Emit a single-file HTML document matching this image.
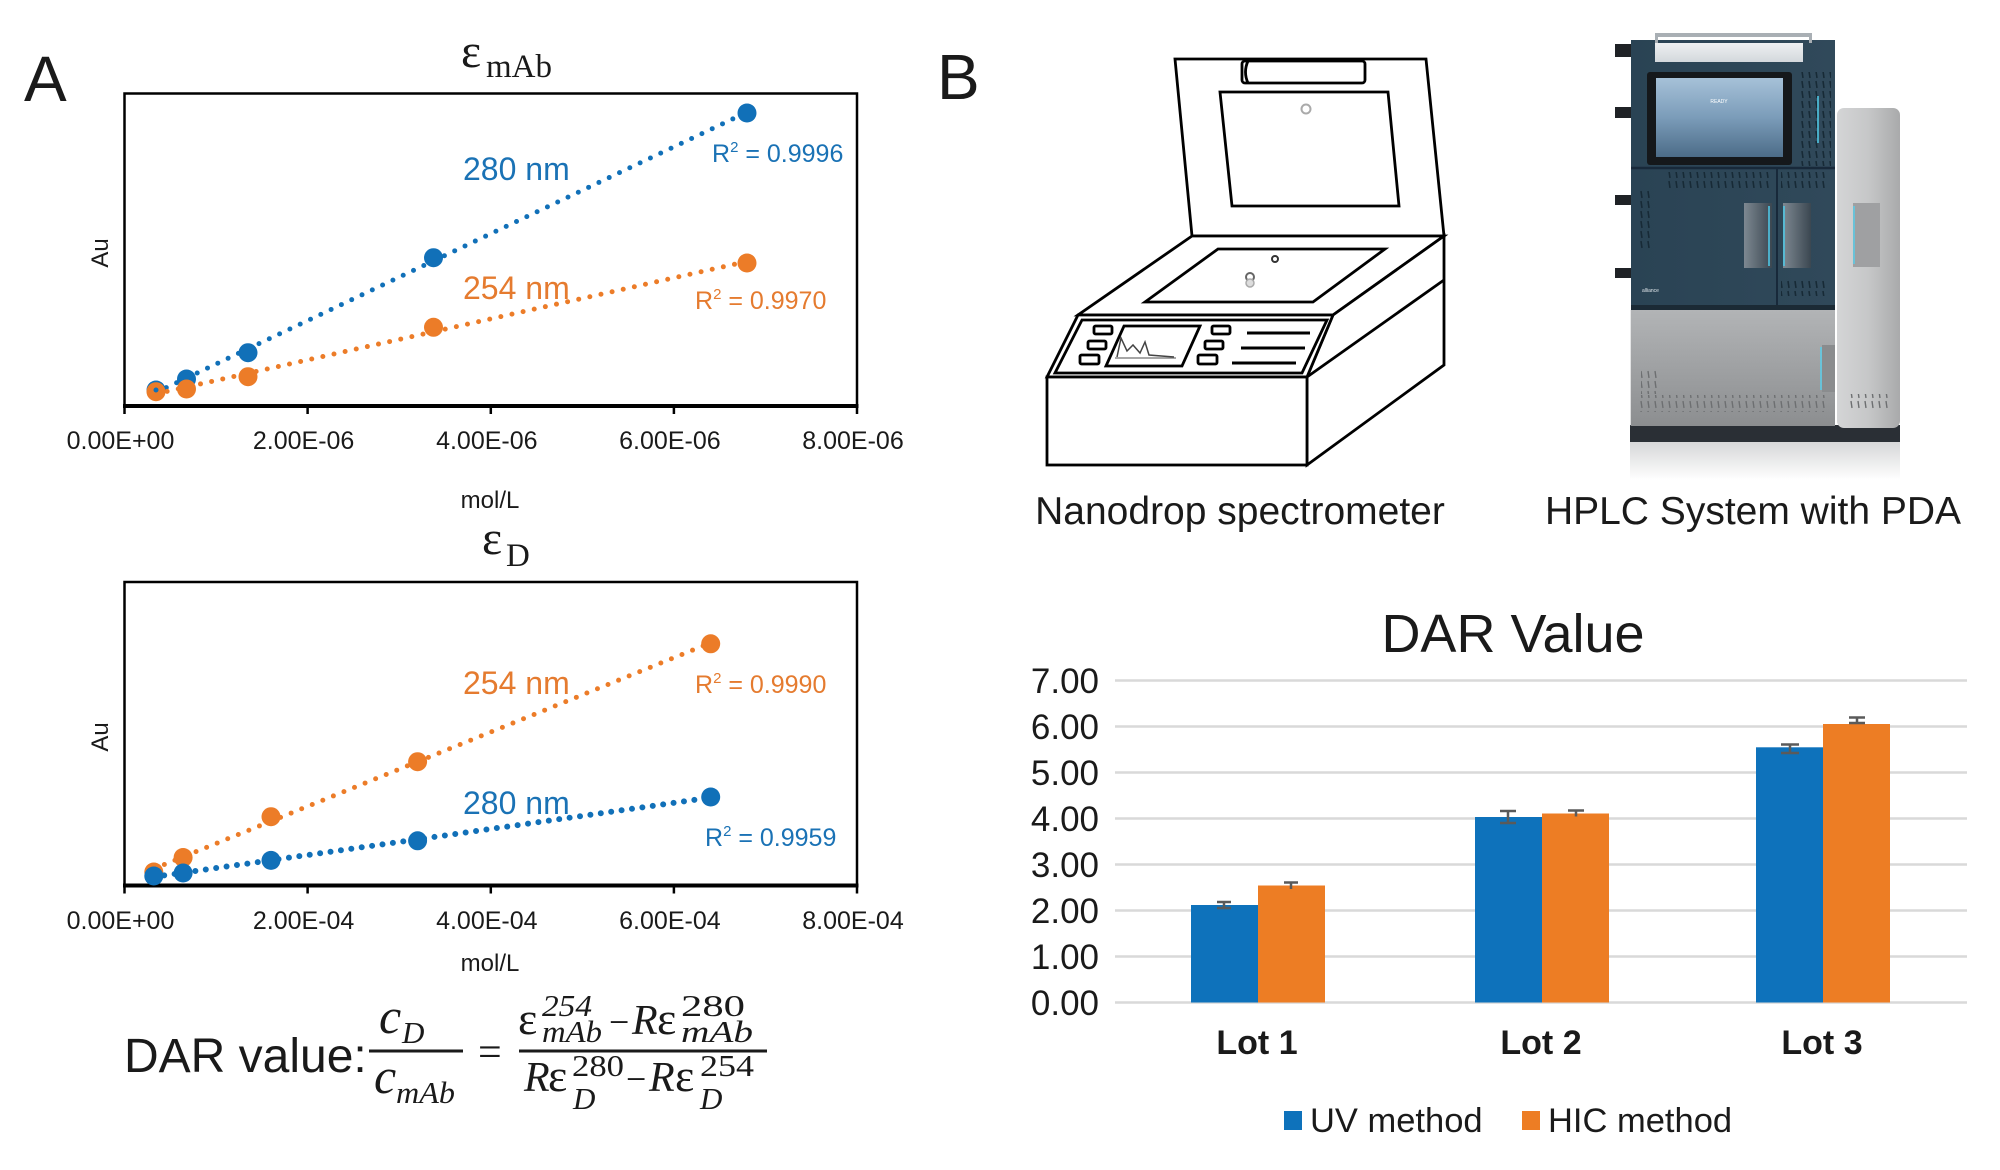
<!DOCTYPE html>
<html><head><meta charset="utf-8"><style>
html,body{margin:0;padding:0;background:#fff;}
svg{display:block;}
</style></head><body>
<svg width="2000" height="1170" viewBox="0 0 2000 1170" xmlns="http://www.w3.org/2000/svg">
<defs>
<linearGradient id="refl" x1="0" y1="0" x2="0" y2="1"><stop offset="0" stop-color="#d6d7d8"/><stop offset="1" stop-color="#ffffff"/></linearGradient>
<linearGradient id="colg" x1="0" y1="0" x2="1" y2="0"><stop offset="0" stop-color="#d4d5d6"/><stop offset="0.5" stop-color="#c6c7c8"/><stop offset="1" stop-color="#a9aaab"/></linearGradient>
<linearGradient id="grayg" x1="0" y1="0" x2="0" y2="1"><stop offset="0" stop-color="#b2b4b6"/><stop offset="1" stop-color="#8c8e90"/></linearGradient>
<linearGradient id="scr" x1="0" y1="0" x2="0" y2="1"><stop offset="0" stop-color="#a6c1d8"/><stop offset="0.5" stop-color="#7b9cb9"/><stop offset="1" stop-color="#4c6c88"/></linearGradient>
<linearGradient id="slotg" x1="0" y1="0" x2="1" y2="0"><stop offset="0" stop-color="#7d8891"/><stop offset="1" stop-color="#3b4751"/></linearGradient>
<linearGradient id="navy" x1="0" y1="0" x2="1" y2="0"><stop offset="0" stop-color="#2a4354"/><stop offset="1" stop-color="#30495a"/></linearGradient>
<linearGradient id="strip" x1="0" y1="0" x2="0" y2="1"><stop offset="0" stop-color="#eef0f2"/><stop offset="1" stop-color="#d3d8dc"/></linearGradient>
<pattern id="vent" width="7" height="10" patternUnits="userSpaceOnUse"><line x1="3" y1="1" x2="4" y2="8" stroke="#172a36" stroke-width="1.6"/></pattern>
<pattern id="vent2" width="7" height="10" patternUnits="userSpaceOnUse"><line x1="3" y1="1" x2="4" y2="8" stroke="#6d6f71" stroke-width="1.4"/></pattern>
</defs>

<!-- ================= PANEL A ================= -->
<text x="24" y="101" font-family="Liberation Sans, sans-serif" font-size="64" fill="#1a1a1a">A</text>

<!-- Top chart title -->
<text x="461" y="67" font-family="Liberation Serif, serif" font-size="48" fill="#1a1a1a">ε</text>
<text x="486" y="77" font-family="Liberation Serif, serif" font-size="33" fill="#1a1a1a">mAb</text>

<!-- Top chart frame -->
<rect x="124.5" y="93.5" width="732.5" height="312.5" fill="none" stroke="#000" stroke-width="2.5"/>
<line x1="123" y1="406" x2="858.5" y2="406" stroke="#000" stroke-width="4"/>
<g stroke="#000" stroke-width="2.5">
<line x1="124.5" y1="406" x2="124.5" y2="414"/>
<line x1="307.6" y1="406" x2="307.6" y2="414"/>
<line x1="490.8" y1="406" x2="490.8" y2="414"/>
<line x1="673.9" y1="406" x2="673.9" y2="414"/>
<line x1="857" y1="406" x2="857" y2="414"/>
</g>
<g font-family="Liberation Sans, sans-serif" font-size="25" fill="#1a1a1a" text-anchor="middle">
<text x="120.5" y="449">0.00E+00</text>
<text x="303.6" y="449">2.00E-06</text>
<text x="486.8" y="449">4.00E-06</text>
<text x="669.9" y="449">6.00E-06</text>
<text x="853" y="449">8.00E-06</text>
<text x="490" y="508" font-size="24">mol/L</text>
<text transform="translate(108,253) rotate(-90)" font-size="24">Au</text>
</g>

<!-- top chart series -->
<line x1="156" y1="392.5" x2="747" y2="112.2" stroke="#1170b8" stroke-width="5" stroke-linecap="round" stroke-dasharray="0 11.4"/>
<g fill="#1170b8">
<circle cx="156" cy="390" r="9.5"/><circle cx="186.5" cy="379" r="9.5"/><circle cx="248" cy="352.7" r="9.5"/><circle cx="433.5" cy="257.7" r="9.5"/><circle cx="747" cy="113" r="9.5"/>
</g>
<line x1="156" y1="393.9" x2="747" y2="261.5" stroke="#ec7c28" stroke-width="5" stroke-linecap="round" stroke-dasharray="0 11.4"/>
<g fill="#ec7c28">
<circle cx="156" cy="391.7" r="9.5"/><circle cx="186.5" cy="389" r="9.5"/><circle cx="248" cy="376.7" r="9.5"/><circle cx="433.5" cy="327.3" r="9.5"/><circle cx="747" cy="263" r="9.5"/>
</g>
<circle cx="156" cy="390" r="2.5" fill="#1170b8"/>
<g font-family="Liberation Sans, sans-serif">
<text x="463" y="180" font-size="32" fill="#1a72b5">280 nm</text>
<text x="712" y="162" font-size="25" fill="#1a72b5">R<tspan font-size="15" dy="-10">2</tspan><tspan dy="10"> = 0.9996</tspan></text>
<text x="463" y="299" font-size="32" fill="#e57b2f">254 nm</text>
<text x="695" y="309" font-size="25" fill="#e57b2f">R<tspan font-size="15" dy="-10">2</tspan><tspan dy="10"> = 0.9970</tspan></text>
</g>

<!-- Bottom chart title -->
<text x="482" y="554" font-family="Liberation Serif, serif" font-size="48" fill="#1a1a1a">ε</text>
<text x="506" y="566" font-family="Liberation Serif, serif" font-size="33" fill="#1a1a1a">D</text>

<!-- Bottom chart frame -->
<rect x="124.5" y="582" width="732.5" height="303.5" fill="none" stroke="#000" stroke-width="2.5"/>
<line x1="123" y1="885.5" x2="858.5" y2="885.5" stroke="#000" stroke-width="4"/>
<g stroke="#000" stroke-width="2.5">
<line x1="124.5" y1="885.5" x2="124.5" y2="893.5"/>
<line x1="307.6" y1="885.5" x2="307.6" y2="893.5"/>
<line x1="490.8" y1="885.5" x2="490.8" y2="893.5"/>
<line x1="673.9" y1="885.5" x2="673.9" y2="893.5"/>
<line x1="857" y1="885.5" x2="857" y2="893.5"/>
</g>
<g font-family="Liberation Sans, sans-serif" font-size="25" fill="#1a1a1a" text-anchor="middle">
<text x="120.5" y="929">0.00E+00</text>
<text x="303.6" y="929">2.00E-04</text>
<text x="486.8" y="929">4.00E-04</text>
<text x="669.9" y="929">6.00E-04</text>
<text x="853" y="929">8.00E-04</text>
<text x="490" y="971" font-size="24">mol/L</text>
<text transform="translate(108,737) rotate(-90)" font-size="24">Au</text>
</g>

<line x1="153.8" y1="868.8" x2="710.7" y2="642.8" stroke="#ec7c28" stroke-width="5" stroke-linecap="round" stroke-dasharray="0 11.4"/>
<g fill="#ec7c28">
<circle cx="153.8" cy="872" r="9.5"/><circle cx="183.1" cy="857.5" r="9.5"/><circle cx="271" cy="816.7" r="9.5"/><circle cx="417.6" cy="761.7" r="9.5"/><circle cx="710.7" cy="643.8" r="9.5"/>
</g>
<line x1="153.8" y1="876.9" x2="710.7" y2="797.6" stroke="#1170b8" stroke-width="6" stroke-linecap="round" stroke-dasharray="0 10.5"/>
<g fill="#1170b8">
<circle cx="153.8" cy="876" r="9.5"/><circle cx="183.1" cy="873" r="9.5"/><circle cx="271" cy="860.4" r="9.5"/><circle cx="417.6" cy="840.8" r="9.5"/><circle cx="710.7" cy="797" r="9.5"/>
</g>
<g font-family="Liberation Sans, sans-serif">
<text x="463" y="694" font-size="32" fill="#e57b2f">254 nm</text>
<text x="695" y="693" font-size="25" fill="#e57b2f">R<tspan font-size="15" dy="-10">2</tspan><tspan dy="10"> = 0.9990</tspan></text>
<text x="463" y="814" font-size="32" fill="#1a72b5">280 nm</text>
<text x="705" y="846" font-size="25" fill="#1a72b5">R<tspan font-size="15" dy="-10">2</tspan><tspan dy="10"> = 0.9959</tspan></text>
</g>

<!-- Formula -->
<text x="124" y="1072" font-family="Liberation Sans, sans-serif" font-size="48" fill="#1a1a1a">DAR value:</text>
<line x1="369" y1="1051" x2="463" y2="1051" stroke="#1a1a1a" stroke-width="3"/>
<g font-family="Liberation Serif, serif" font-style="italic" fill="#1a1a1a">
<text x="379" y="1033" font-size="50">c</text>
<text x="402" y="1043" font-size="31">D</text>
<text x="374" y="1093" font-size="50">c</text>
<text x="396" y="1103" font-size="31" textLength="59" lengthAdjust="spacingAndGlyphs">mAb</text>
</g>
<text x="478" y="1066" font-family="Liberation Serif, serif" font-size="42" fill="#1a1a1a">=</text>
<line x1="519" y1="1051" x2="767" y2="1051" stroke="#1a1a1a" stroke-width="3"/>
<g font-family="Liberation Serif, serif" fill="#1a1a1a">
<text x="518" y="1034" font-size="46">ε</text>
<text x="542" y="1016" font-size="31" font-style="italic" textLength="50" lengthAdjust="spacingAndGlyphs">254</text>
<text x="542" y="1042" font-size="31" font-style="italic" textLength="60" lengthAdjust="spacingAndGlyphs">mAb</text>
<text x="609" y="1034" font-size="36">−</text>
<text x="632" y="1034" font-size="42" font-style="italic">R</text>
<text x="657" y="1034" font-size="46">ε</text>
<text x="681" y="1016" font-size="31" textLength="64" lengthAdjust="spacingAndGlyphs">280</text>
<text x="681" y="1042" font-size="31" font-style="italic" textLength="72" lengthAdjust="spacingAndGlyphs">mAb</text>

<text x="524" y="1091" font-size="42" font-style="italic">R</text>
<text x="548" y="1091" font-size="46">ε</text>
<text x="572" y="1076" font-size="31" textLength="52" lengthAdjust="spacingAndGlyphs">280</text>
<text x="573" y="1109" font-size="31" font-style="italic">D</text>
<text x="626" y="1091" font-size="36">−</text>
<text x="649" y="1091" font-size="42" font-style="italic">R</text>
<text x="675" y="1091" font-size="46">ε</text>
<text x="700" y="1076" font-size="31" textLength="54" lengthAdjust="spacingAndGlyphs">254</text>
<text x="700" y="1109" font-size="31" font-style="italic">D</text>
</g>

<!-- ================= PANEL B ================= -->
<text x="937" y="99" font-family="Liberation Sans, sans-serif" font-size="64" fill="#1a1a1a">B</text>

<!-- Nanodrop drawing -->
<g fill="#fff" stroke="#000" stroke-width="2.8" stroke-linejoin="miter">
<polygon points="1175,59 1426,59 1444,236 1192,236"/>
<rect x="1242" y="61" width="123" height="22" rx="3"/>
<path d="M1248,61 Q1243,72 1248,83" fill="none"/>
<polygon points="1220,92 1388,92 1399,206 1232,206"/>
<polygon points="1192,236 1444,236 1333,315 1078,315"/>
<polygon points="1218,249 1385,249 1313,302 1145,302"/>
<polygon points="1333,315 1444,236 1444,365 1307,465 1307,377"/>
<line x1="1307" y1="377" x2="1444" y2="280"/>
<polygon points="1078,315 1333,315 1307,377 1047,377"/>
<polygon points="1082,320 1327,320 1302,373 1055,373"/>
<rect x="1047" y="377" width="260" height="88"/>
<polygon points="1124,326 1200,326 1182,366 1106,366"/>
<rect x="1094" y="326" width="18" height="8" rx="1.5"/>
<rect x="1088" y="341" width="18" height="8" rx="1.5"/>
<rect x="1080" y="355" width="19" height="9" rx="1.5"/>
<rect x="1212" y="326" width="18" height="8" rx="1.5"/>
<rect x="1205" y="341" width="18" height="8" rx="1.5"/>
<rect x="1198" y="355" width="19" height="9" rx="1.5"/>
</g>
<g stroke="#000" stroke-width="3">
<line x1="1247" y1="333" x2="1310" y2="333"/>
<line x1="1241" y1="348" x2="1305" y2="348"/>
<line x1="1232" y1="363" x2="1296" y2="363"/>
</g>
<path d="M1115,358 L1176,358" stroke="#888" stroke-width="1.5" fill="none"/>
<path d="M1117,357 L1121,338 L1127,351 L1133,345 L1140,353 L1145,342 L1149,355 L1174,357" stroke="#444" stroke-width="1.5" fill="none"/>
<circle cx="1306" cy="109" r="4.5" fill="#fff" stroke="#aaa" stroke-width="2"/>
<circle cx="1275" cy="259" r="3" fill="#fff" stroke="#333" stroke-width="2"/>
<circle cx="1250" cy="277" r="4" fill="#fff" stroke="#666" stroke-width="2"/>
<circle cx="1250" cy="283" r="4" fill="#ddd" stroke="#aaa" stroke-width="1.5"/>

<!-- HPLC system -->
<rect x="1630" y="442" width="270" height="38" fill="url(#refl)"/>
<rect x="1630" y="425" width="270" height="17" fill="#2a2f35"/>
<rect x="1837" y="108" width="63" height="320" rx="7" fill="url(#colg)"/>
<rect x="1853" y="203" width="27" height="64" fill="#9fa0a2"/>
<line x1="1854" y1="206" x2="1854" y2="264" stroke="#5ccbe6" stroke-width="1.6"/>
<rect x="1850" y="394" width="40" height="16" fill="url(#vent2)"/>
<rect x="1630.7" y="310" width="204.3" height="116" fill="url(#grayg)"/>
<rect x="1822" y="345" width="13" height="47" fill="#8a8c8e"/>
<line x1="1821" y1="347" x2="1821" y2="390" stroke="#5ccbe6" stroke-width="1.6"/>
<rect x="1640" y="395" width="185" height="17" fill="url(#vent2)"/>
<rect x="1641" y="370" width="18" height="24" fill="url(#vent2)"/>
<rect x="1631" y="40" width="204" height="270" fill="url(#navy)"/>
<rect x="1655" y="43" width="148" height="19" fill="url(#strip)"/>
<rect x="1655" y="33" width="157" height="4" fill="#a9afb4"/>
<rect x="1655" y="33" width="3" height="10" fill="#a9afb4"/>
<rect x="1809" y="33" width="3" height="10" fill="#a9afb4"/>
<rect x="1647" y="72" width="145" height="93" rx="3" fill="#15181b"/>
<rect x="1656" y="78" width="127" height="79" fill="url(#scr)"/>
<text x="1719" y="103" font-family="Liberation Sans, sans-serif" font-size="5" fill="#ffffff" text-anchor="middle">READY</text>
<rect x="1799" y="72" width="32" height="94" fill="url(#vent)"/>
<rect x="1668" y="172" width="105" height="16" fill="url(#vent)"/>
<rect x="1781" y="172" width="48" height="16" fill="url(#vent)"/>
<rect x="1781" y="280" width="48" height="16" fill="url(#vent)"/>
<rect x="1640" y="190" width="10" height="60" fill="url(#vent)"/>
<line x1="1631" y1="168" x2="1835" y2="168" stroke="#18293a" stroke-width="2.5"/>
<line x1="1777" y1="168" x2="1777" y2="308" stroke="#18293a" stroke-width="2"/>
<rect x="1744" y="203" width="28" height="65" fill="url(#slotg)"/>
<rect x="1783" y="203" width="28" height="65" fill="url(#slotg)"/>
<line x1="1769" y1="206" x2="1769" y2="266" stroke="#4fc6e4" stroke-width="1.6"/>
<line x1="1784" y1="206" x2="1784" y2="266" stroke="#4fc6e4" stroke-width="1.6"/>
<line x1="1818" y1="96" x2="1818" y2="143" stroke="#4fc6e4" stroke-width="1.6"/>
<rect x="1631" y="305" width="204" height="5" fill="#1b2a35"/>
<text x="1642" y="292" font-family="Liberation Sans, sans-serif" font-size="5" fill="#dfe6ea">alliance</text>
<g fill="#1f2226">
<rect x="1615" y="44" width="16" height="13"/>
<rect x="1615" y="107" width="16" height="11"/>
<rect x="1615" y="195" width="16" height="10"/>
<rect x="1615" y="268" width="16" height="10"/>
</g>

<g font-family="Liberation Sans, sans-serif" font-size="39" fill="#1a1a1a" text-anchor="middle">
<text x="1240" y="524">Nanodrop spectrometer</text>
<text x="1753" y="524">HPLC System with PDA</text>
</g>

<!-- DAR chart -->
<text x="1513" y="652" font-family="Liberation Sans, sans-serif" font-size="54" fill="#1a1a1a" text-anchor="middle">DAR Value</text>
<g stroke="#d9d9d9" stroke-width="2.5">
<line x1="1115" y1="1002.5" x2="1967" y2="1002.5"/>
<line x1="1115" y1="956.5" x2="1967" y2="956.5"/>
<line x1="1115" y1="910.5" x2="1967" y2="910.5"/>
<line x1="1115" y1="864.5" x2="1967" y2="864.5"/>
<line x1="1115" y1="818.5" x2="1967" y2="818.5"/>
<line x1="1115" y1="772.5" x2="1967" y2="772.5"/>
<line x1="1115" y1="726.5" x2="1967" y2="726.5"/>
<line x1="1115" y1="680.5" x2="1967" y2="680.5"/>
</g>
<g font-family="Liberation Sans, sans-serif" font-size="35" fill="#1a1a1a" text-anchor="end">
<text x="1099" y="1015">0.00</text>
<text x="1099" y="969">1.00</text>
<text x="1099" y="923">2.00</text>
<text x="1099" y="877">3.00</text>
<text x="1099" y="831">4.00</text>
<text x="1099" y="785">5.00</text>
<text x="1099" y="739">6.00</text>
<text x="1099" y="693">7.00</text>
</g>
<g fill="#0e72bb">
<rect x="1191" y="905" width="67" height="97.5"/>
<rect x="1475" y="817" width="67" height="185.5"/>
<rect x="1756" y="747.3" width="67" height="255.2"/>
</g>
<g fill="#ed7d24">
<rect x="1258" y="885.5" width="67" height="117"/>
<rect x="1542" y="813.5" width="67" height="189"/>
<rect x="1823" y="724" width="67" height="278.5"/>
</g>
<g stroke="#5a5a5a" stroke-width="2.5" fill="none">
<path d="M1217,902 H1231 M1224,902 V908 M1217,908 H1231"/>
<path d="M1284,882.5 H1298 M1291,882.5 V889"/>
<path d="M1500,811 H1516 M1508,811 V823 M1500,823 H1516"/>
<path d="M1568,810.5 H1584 M1576,810.5 V816.5"/>
<path d="M1781,744.5 H1799 M1790,744.5 V753 M1781,753 H1799"/>
<path d="M1849,717.5 H1865 M1857,717.5 V724 M1849,723 H1865"/>
</g>
<g font-family="Liberation Sans, sans-serif" font-size="34" font-weight="bold" fill="#1a1a1a" text-anchor="middle">
<text x="1257" y="1054">Lot 1</text>
<text x="1541" y="1054">Lot 2</text>
<text x="1822" y="1054">Lot 3</text>
</g>
<rect x="1284" y="1111" width="18" height="19" fill="#0e72bb"/>
<rect x="1522" y="1111" width="18" height="19" fill="#ed7d24"/>
<g font-family="Liberation Sans, sans-serif" font-size="34.5" fill="#1a1a1a">
<text x="1310" y="1132">UV method</text>
<text x="1548" y="1132">HIC method</text>
</g>
</svg>
</body></html>
